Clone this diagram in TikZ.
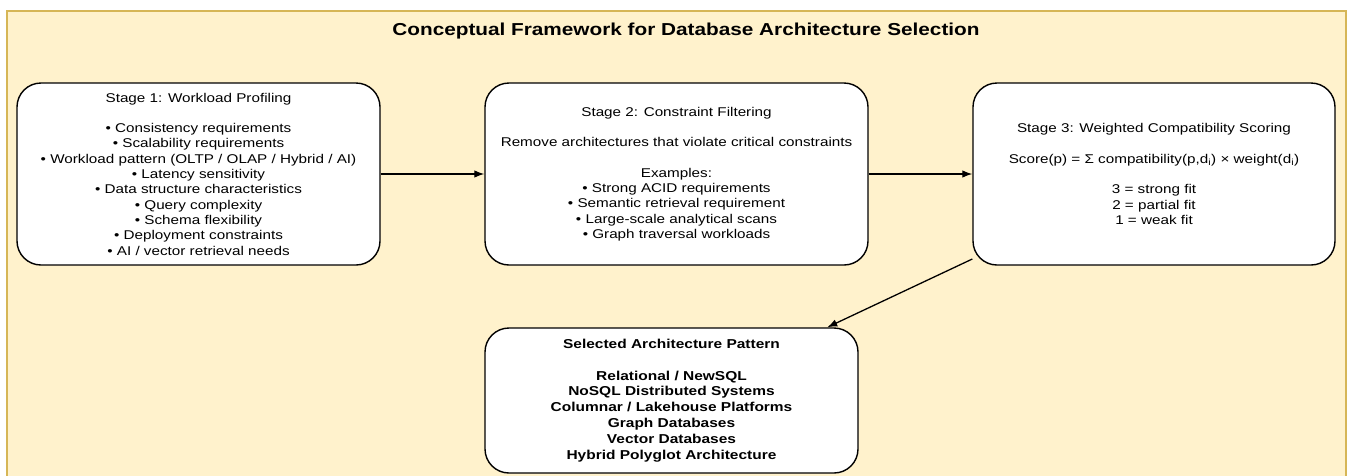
\documentclass[tikz,border=0pt]{standalone}
\usepackage{fontspec}
\setmainfont[FakeStretch=1.2]{Liberation Sans}
\usetikzlibrary{arrows.meta}
\definecolor{panelfill}{HTML}{FFF2CC}
\definecolor{panelline}{HTML}{D6B656}
\tikzset{
  stagebox/.style={draw=black, fill=white, line width=1.4pt, rounded corners=24pt,
    align=center, font=\fontsize{12.7}{15.3}\selectfont, inner sep=0pt},
  flow/.style={->, >={Latex[length=10pt,width=7.5pt]}, line width=1.3pt}
}
\begin{document}
\begin{tikzpicture}[x=1pt,y=-1pt]
    \useasboundingbox (0,0) rectangle (1352,475);
    \draw[fill=panelfill, draw=panelline, line width=1.5pt] (7,11) rectangle (1346,478);
    \node (title) at (686,31) {\fontsize{17.3}{20}\selectfont\bfseries Conceptual Framework for Database Architecture Selection};
    \node[stagebox, minimum width=363pt, minimum height=182pt] (s1) at (198.5,174)
      {Stage 1: Workload Profiling\\[15.3pt]
       • Consistency requirements\\
       • Scalability requirements\\
       • Workload pattern (OLTP / OLAP / Hybrid / AI)\\
       • Latency sensitivity\\
       • Data structure characteristics\\
       • Query complexity\\
       • Schema flexibility\\
       • Deployment constraints\\
       • AI / vector retrieval needs};
    \node[stagebox, minimum width=383pt, minimum height=182pt] (s2) at (676.5,174)
      {Stage 2: Constraint Filtering\\[15.3pt]
       Remove architectures that violate critical constraints\\[15.3pt]
       Examples:\\
       • Strong ACID requirements\\
       • Semantic retrieval requirement\\
       • Large-scale analytical scans\\
       • Graph traversal workloads};
    \node[stagebox, minimum width=362pt, minimum height=182pt] (s3) at (1154,174)
      {Stage 3: Weighted Compatibility Scoring\\[15.3pt]
       Score(p) = Σ compatibility(p,d\textsubscript{i}) × weight(d\textsubscript{i})\\[15.3pt]
       3 = strong fit\\
       2 = partial fit\\
       1 = weak fit};
    \node[stagebox, font=\fontsize{12.9}{15.8}\selectfont\bfseries, minimum width=373pt, minimum height=145pt] (fin) at (671.5,400.5)
      {Selected Architecture Pattern\\[15.8pt]
       Relational / NewSQL\\
       NoSQL Distributed Systems\\
       Columnar / Lakehouse Platforms\\
       Graph Databases\\
       Vector Databases\\
       Hybrid Polyglot Architecture};
    \draw[flow] (s1) -- (s2);
    \draw[flow] (s2) -- (s3);
    \draw[flow] (s3) -- (fin);
\end{tikzpicture}
\end{document}
